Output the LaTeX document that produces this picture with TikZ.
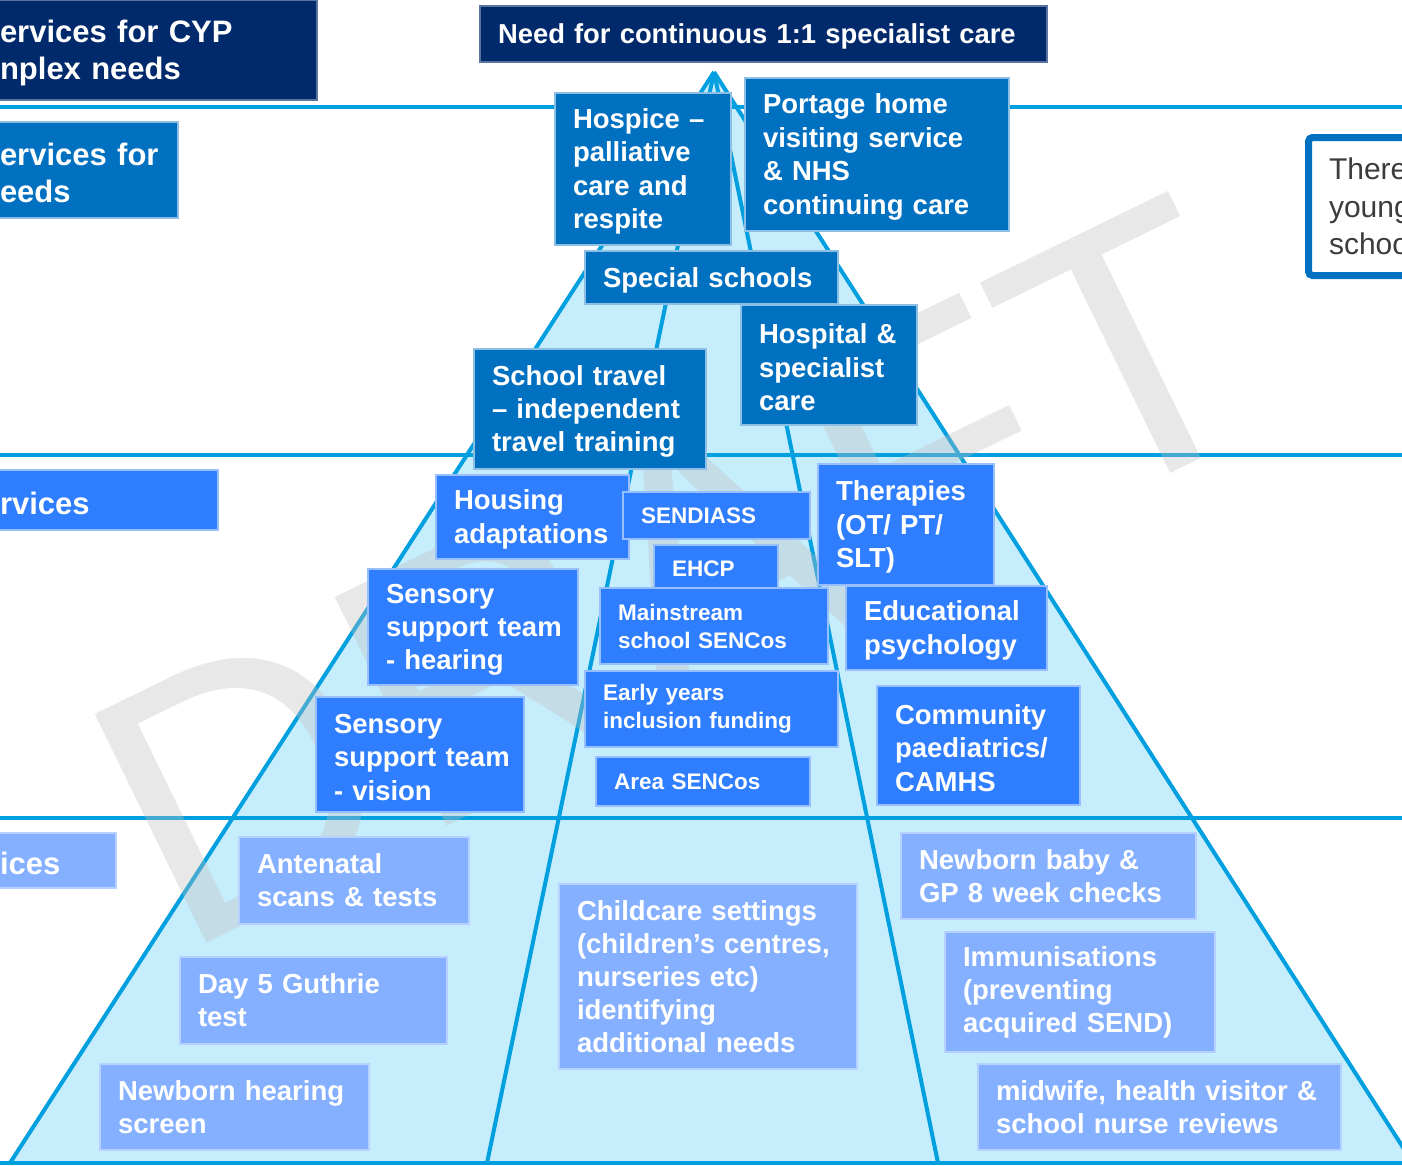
\documentclass[tikz,border=0pt]{standalone}
\usepackage{fontspec}
\setmainfont{Liberation Sans}
\definecolor{navy}{HTML}{002A6C}
\definecolor{medblue}{HTML}{0070C0}
\definecolor{brightblue}{HTML}{2F7EFF}
\definecolor{lightbox}{HTML}{85B0FF}
\definecolor{pyrfill}{HTML}{C6EDFC}
\definecolor{tierline}{HTML}{009FDF}
\definecolor{darktext}{HTML}{3C3C3C}
\newcommand\mkbox[7]{%
  \pgfmathsetmacro\bxw{#5-(#3)}%
  \pgfmathsetmacro\bxh{#6-(#4)}%
  \pgfmathsetmacro\bxcx{(#3+#5)/2}%
  \pgfmathsetmacro\bxcy{(#4+#6)/2}%
  \pgfmathsetmacro\bxtw{#5-(#3)-36}%
  \node[#2, minimum width=\bxw pt, minimum height=\bxh pt, text width=\bxtw pt] (#1) at (\bxcx,\bxcy) {#7};%
}
\tikzset{
  basebox/.style={rectangle, inner xsep=18pt, inner ysep=0pt, outer sep=0pt, align=left, text=white, line width=1.5pt},
  navybox/.style={basebox, fill=navy, draw=navy!65!white},
  medbox/.style={basebox, fill=medblue, draw=medblue!45!white},
  brightbox/.style={basebox, fill=brightblue, draw=brightblue!50!white},
  lbox/.style={basebox, fill=lightbox, draw=lightbox!60!white},
  headfont/.style={font=\fontsize{31}{37}\selectfont\bfseries, execute at begin node={\rule{0pt}{0.92em}}},
  topfont/.style={font=\fontsize{27.4}{33}\selectfont\bfseries, execute at begin node={\rule{0pt}{0.92em}}},
  mainfont/.style={font=\fontsize{27.5}{33.4}\selectfont\bfseries, execute at begin node={\rule{0pt}{0.9em}}},
  smallfont/.style={font=\fontsize{22.5}{28}\selectfont\bfseries},
  lowfont/.style={font=\fontsize{27.5}{33}\selectfont\bfseries},
  tier/.style={draw=tierline, line width=4.5pt},
  pyrline/.style={draw=tierline, line width=4pt, line join=round}
}
\begin{document}
\begin{tikzpicture}[x=1pt,y=-1pt]
\useasboundingbox (0,0) rectangle (1402,1165);
\clip (0,0) rectangle (1402,1165);
\fill[white] (0,0) rectangle (1402,1165);
% pyramid
\coordinate (apex) at (714,72);
\coordinate (baseL) at (10,1163);
\coordinate (baseR) at (1413,1163);
\coordinate (innerL) at (487,1163);
\coordinate (innerR) at (938,1163);
\coordinate (floorL) at (0,1163);
\coordinate (floorR) at (1402,1163);
\fill[pyrfill] (apex) -- (baseL) -- (baseR) -- cycle;
\draw[pyrline] (apex) -- (baseL);
\draw[pyrline] (apex) -- (baseR);
\draw[pyrline] (apex) -- (innerL);
\draw[pyrline] (apex) -- (innerR);
\draw[tierline, line width=3.5pt] (floorL) -- (floorR);
% tier lines
\coordinate (t1L) at (0,107);   \coordinate (t1R) at (1402,107);
\coordinate (t2L) at (0,455);   \coordinate (t2R) at (1402,455);
\coordinate (t3L) at (0,818);   \coordinate (t3R) at (1402,818);
\draw[tier] (t1L) -- (t1R);
\draw[tier] (t2L) -- (t2R);
\draw[tier] (t3L) -- (t3R);
% watermark
\node[rotate=26, font=\fontsize{370}{370}\selectfont, text=black!25, opacity=0.35, inner sep=0pt] (draft) at (678,572) {DRAFT};
% left headings
\mkbox{hA}{navybox,headfont}{-18}{0}{317}{100}{ervices for CYP\\nplex needs}
\mkbox{hB}{medbox,headfont}{-18}{122}{178}{218}{ervices~for\\eeds}
\mkbox{hC}{brightbox,headfont}{-18}{470}{218}{530}{rvices}
\mkbox{hD}{lbox,headfont}{-18}{833}{116}{888}{ices}
% top
\mkbox{need}{navybox,topfont}{480}{6}{1047}{62}{Need~for~continuous~1:1~specialist~care}
% specialist tier
\mkbox{hospice}{medbox,mainfont}{555}{93}{731}{245}{Hospice~–\\palliative\\care and\\respite}
\mkbox{portage}{medbox,mainfont}{745}{78}{1009}{231}{Portage home\\visiting service\\\& NHS\\continuing care}
\mkbox{special}{medbox,mainfont}{585}{251}{838}{304}{Special schools}
\mkbox{hospital}{medbox,mainfont}{741}{305}{917}{425}{Hospital~\&\\specialist\\care}
\mkbox{travel}{medbox,mainfont}{474}{349}{706}{469}{School travel\\–~independent\\travel training}
% targeted tier
\mkbox{housing}{brightbox,mainfont}{436}{475}{629}{559}{Housing\\adaptations}
\mkbox{sendiass}{brightbox,smallfont}{623}{492}{810}{539}{SENDIASS}
\mkbox{ehcp}{brightbox,smallfont}{654}{545}{778}{593}{EHCP}
\mkbox{therapies}{brightbox,mainfont}{818}{464}{994}{585}{Therapies\\(OT/ PT/\\SLT)}
\mkbox{hearing}{brightbox,mainfont}{368}{569}{578}{685}{Sensory\\support~team\\- hearing}
\mkbox{mainstream}{brightbox,smallfont}{600}{588}{828}{664}{Mainstream\\school SENCos}
\mkbox{edpsych}{brightbox,mainfont}{846}{586}{1047}{670}{Educational\\psychology}
\mkbox{earlyyears}{brightbox,smallfont}{585}{671}{838}{747}{Early years\\inclusion funding}
\mkbox{vision}{brightbox,mainfont}{316}{697}{524}{812}{Sensory\\support~team\\- vision}
\mkbox{areasenco}{brightbox,smallfont}{596}{757}{810}{806}{Area SENCos}
\mkbox{community}{brightbox,mainfont}{877}{686}{1080}{805}{Community\\paediatrics/\\CAMHS}
% universal tier
\mkbox{antenatal}{lbox,lowfont}{239}{837}{469}{924}{Antenatal\\scans \& tests}
\mkbox{guthrie}{lbox,lowfont}{180}{957}{447}{1044}{Day 5 Guthrie\\test}
\mkbox{nbhearing}{lbox,lowfont}{100}{1064}{369}{1150}{Newborn hearing\\screen}
\mkbox{childcare}{lbox,lowfont}{559}{884}{857}{1069}{Childcare settings\\(children’s centres,\\nurseries etc)\\identifying\\additional needs}
\mkbox{nbbaby}{lbox,lowfont}{901}{833}{1196}{919}{Newborn baby \&\\GP 8 week checks}
\mkbox{immun}{lbox,lowfont}{945}{932}{1215}{1052}{Immunisations\\(preventing\\acquired SEND)}
\mkbox{midwife}{lbox,lowfont}{978}{1064}{1341}{1150}{midwife, health visitor \&\\school nurse reviews}
% right note
\node[draw=medblue, line width=7pt, rounded corners=4pt, fill=white, text=darktext, align=left, anchor=north west, inner xsep=20.5pt, inner ysep=0pt, outer sep=0pt, minimum height=138pt, text width=120pt, font=\fontsize{30}{37.5}\selectfont] (thereBox) at (1308.5,137.5) {There\\young\\schoo};
\end{tikzpicture}
\end{document}
